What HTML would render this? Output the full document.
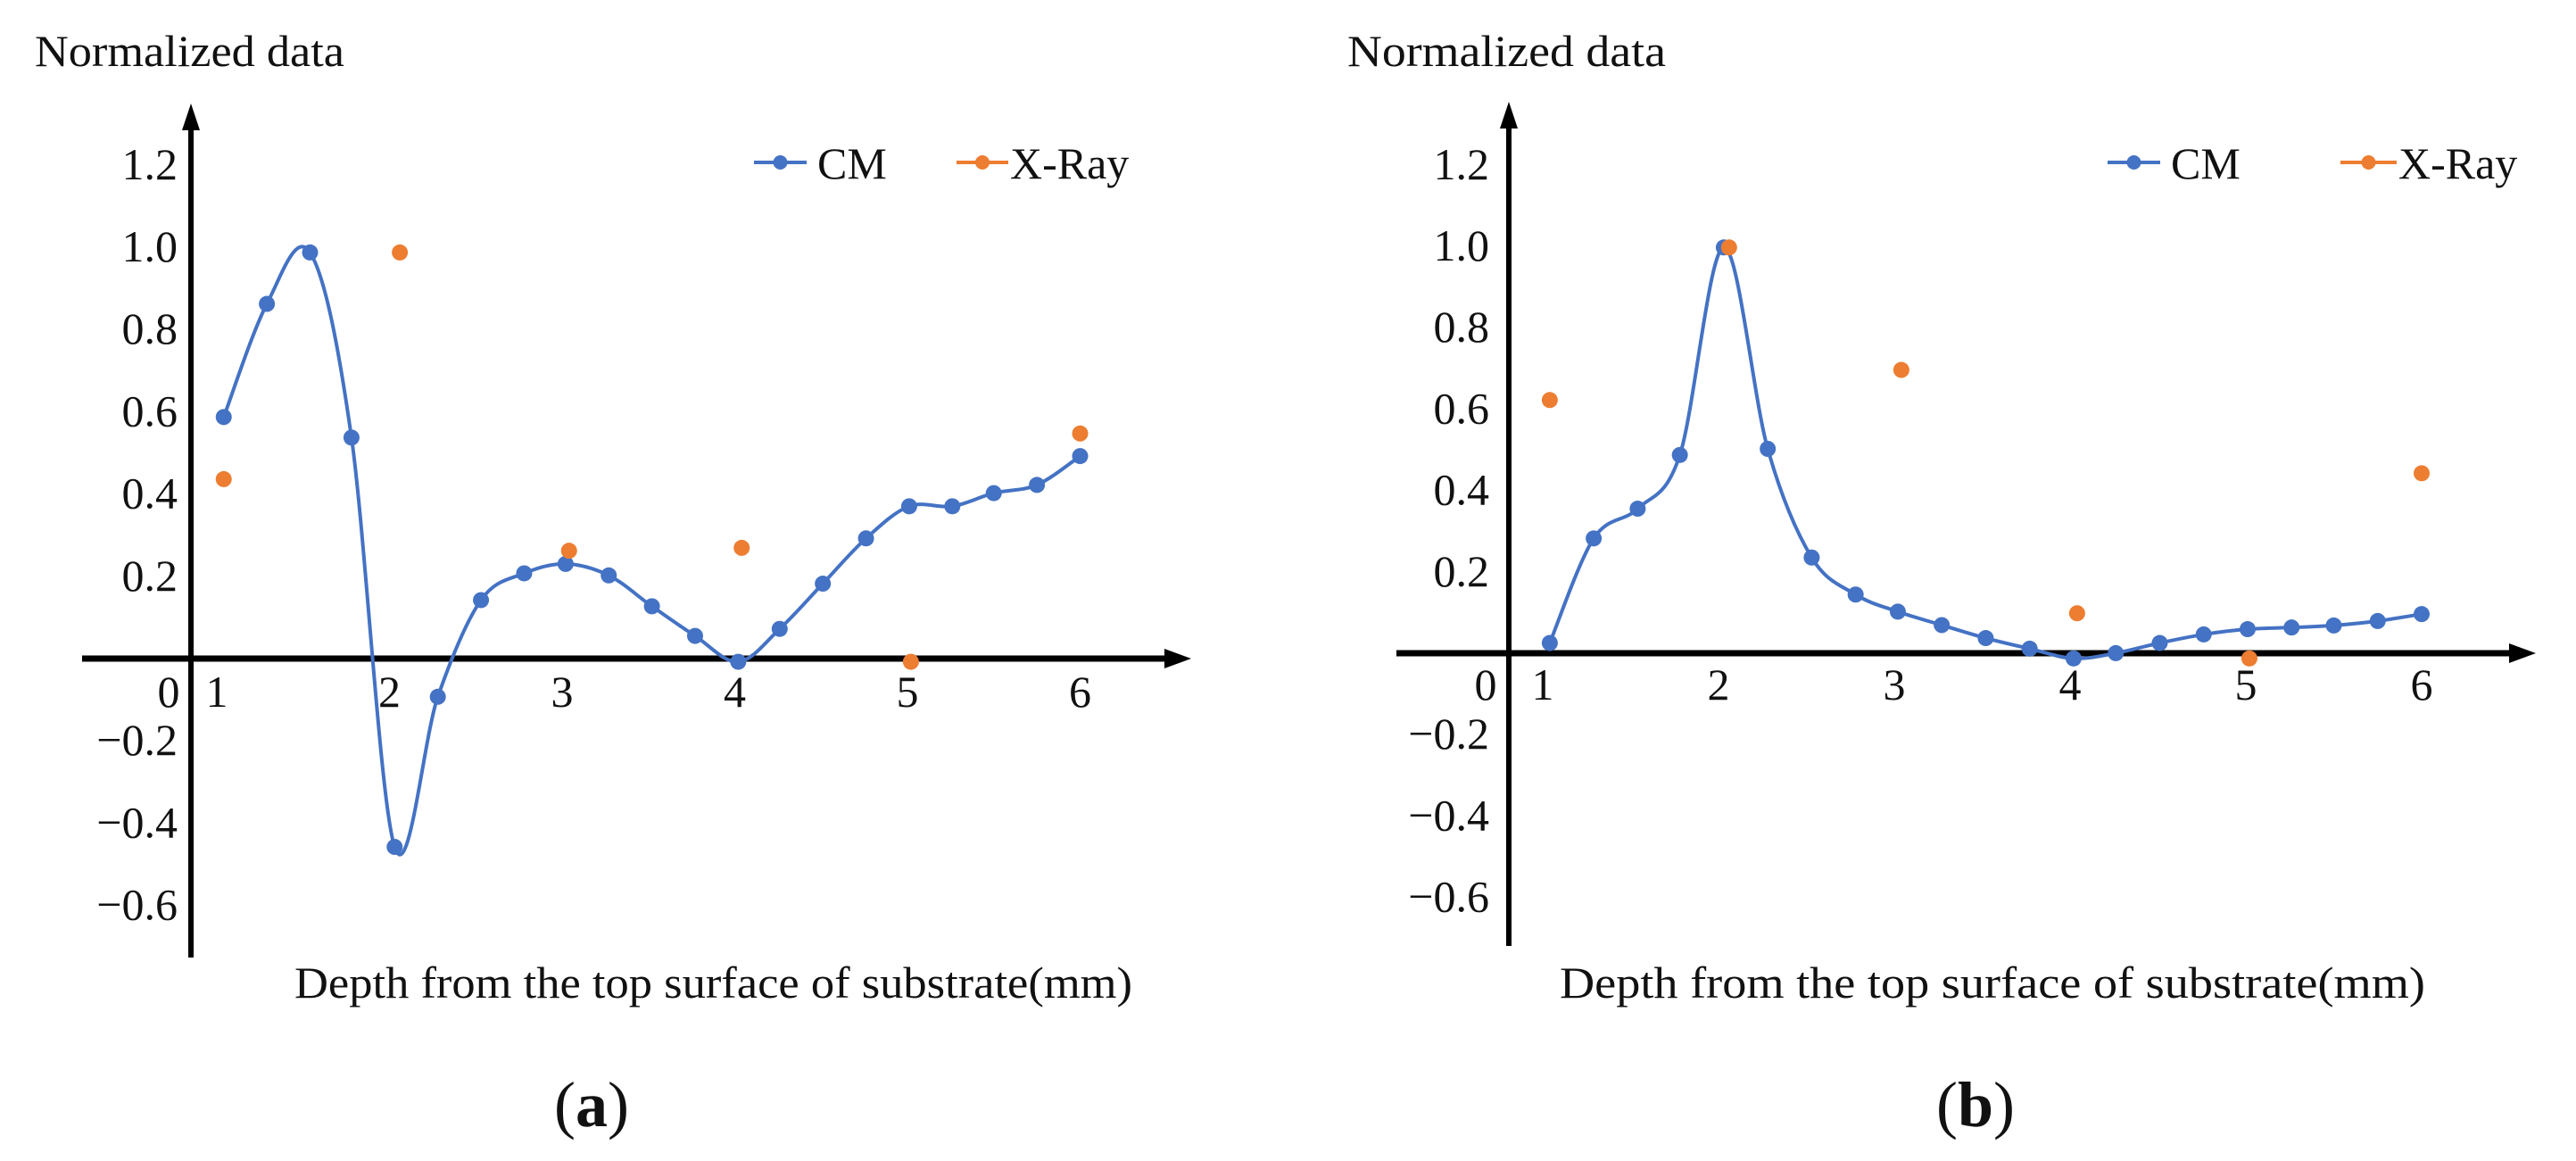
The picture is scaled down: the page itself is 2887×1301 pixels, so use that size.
<!DOCTYPE html>
<html><head><meta charset="utf-8"><style>
html,body{margin:0;padding:0;background:#fff;}
svg{display:block;}
text{font-family:"Liberation Serif",serif;fill:#111;}
</style></head><body>
<svg id="fig" width="2887" height="1301" viewBox="0 0 2887 1301" xmlns="http://www.w3.org/2000/svg"></svg>
<script>
// ---- data ----
const depthCM = [1.04,1.29,1.54,1.78,2.03,2.28,2.53,2.78,3.02,3.27,3.52,3.77,4.02,4.26,4.51,4.76,5.01,5.26,5.50,5.75,6.0];
const cmA = [0.585,0.86,0.985,0.535,-0.46,-0.095,0.14,0.205,0.228,0.20,0.125,0.053,-0.01,0.07,0.18,0.29,0.368,0.368,0.40,0.42,0.49];
const cmB = [0.023,0.28,0.353,0.485,0.995,0.50,0.233,0.142,0.10,0.067,0.035,0.009,-0.015,-0.002,0.023,0.044,0.057,0.061,0.066,0.077,0.094];
const depthXR = [1.04,2.06,3.04,4.04,5.02,6.0];
const xrA = [0.434,0.985,0.26,0.267,-0.01,0.545];
const xrB = [0.62,0.995,0.694,0.096,-0.015,0.44];
const yTicks = [1.2,1.0,0.8,0.6,0.4,0.2,-0.2,-0.4,-0.6];
const yTickLabels = ["1.2","1.0","0.8","0.6","0.4","0.2","\u22120.2","\u22120.4","\u22120.6"];
const xTicks = [1,2,3,4,5,6];
const xTickLabels = ["1","2","3","4","5","6"];

const NS = "http://www.w3.org/2000/svg";
const svg = document.getElementById('fig');
function mk(tag, attrs, parent){
  const e = document.createElementNS(NS, tag);
  for (const k in attrs) e.setAttribute(k, attrs[k]);
  (parent||svg).appendChild(e);
  return e;
}
const BLUE = "#4472C4", ORANGE = "#ED7D31";

const panels = [
  {id:'a', cm:cmA, xr:xrA, axX:214, x0:243, dx:193.5, y0:737, dy:461, yTop:116, yBot:1073, xL:92, xR:1335,
   lblR:199, zeroX:189, xLbly:792, legCM:[845,904,916], legXR:[1072,1130,1132], legY:182,
   ttl:[39,386], axt:[330,1269], cap:[663,'(a)']},
  {id:'b', cm:cmB, xr:xrB, axX:1691, x0:1729, dx:197, y0:731, dy:456, yTop:114, yBot:1060, xL:1565, xR:2842,
   lblR:1669, zeroX:1665, xLbly:784, legCM:[2362,2421,2433], legXR:[2623,2686,2688], legY:182,
   ttl:[1510,1867], axt:[1748,2718], cap:[2214,'(b)']}
];

panels.forEach(p => {
  const g = mk('g', {});
  
  
  const X = v => p.x0 + (v - 1) * p.dx;
  const Y = v => p.y0 - v * p.dy;

  // y-axis title
  const t = mk('text', {x:p.ttl[0], y:74, 'font-size':50, textLength:p.ttl[1]-p.ttl[0], lengthAdjust:'spacingAndGlyphs'}, g);
  t.textContent = 'Normalized data';
  
  

  // axes
  const ya = mk('line', {x1:p.axX, y1:p.yTop+20, x2:p.axX, y2:p.yBot, stroke:'#000', 'stroke-width':6}, g);
  
  
  const yar = mk('path', {d:`M${p.axX-10},${p.yTop+30} L${p.axX},${p.yTop} L${p.axX+10},${p.yTop+30} Z`, fill:'#000'}, g);
  
  
  const zy = p.y0 + 1;
  const xa = mk('line', {x1:p.xL, y1:zy, x2:p.xR-20, y2:zy, stroke:'#000', 'stroke-width':7}, g);
  
  
  const xar = mk('path', {d:`M${p.xR-30},${zy-11} L${p.xR},${zy} L${p.xR-30},${zy+11} Z`, fill:'#000'}, g);
  
  

  // y tick labels
  yTicks.forEach((v, i) => {
    const tl = mk('text', {x:p.lblR, y:Y(v) + 17, 'font-size':50, 'text-anchor':'end'}, g);
    tl.textContent = yTickLabels[i];
    
    
  });
  // origin label
  const z0 = mk('text', {x:p.zeroX, y:p.xLbly, 'font-size':50, 'text-anchor':'middle'}, g);
  z0.textContent = '0';
  
  
  // x tick labels
  xTicks.forEach((v, i) => {
    const tl = mk('text', {x:X(v), y:p.xLbly, 'font-size':50, 'text-anchor':'middle'}, g);
    tl.textContent = xTickLabels[i];
    
    
  });

  // smooth CM line
  const pts = depthCM.map((d, i) => [X(d), Y(p.cm[i])]);
  let d = `M${pts[0][0]},${pts[0][1]}`;
  for (let i = 0; i < pts.length - 1; i++) {
    const p0 = pts[Math.max(0, i-1)], p1 = pts[i], p2 = pts[i+1], p3 = pts[Math.min(pts.length-1, i+2)];
    const c1 = [p1[0] + (p2[0]-p0[0])/6, p1[1] + (p2[1]-p0[1])/6];
    const c2 = [p2[0] - (p3[0]-p1[0])/6, p2[1] - (p3[1]-p1[1])/6];
    d += ` C${c1[0]},${c1[1]} ${c2[0]},${c2[1]} ${p2[0]},${p2[1]}`;
  }
  const ln = mk('path', {d:d, fill:'none', stroke:BLUE, 'stroke-width':4}, g);
  
  
  pts.forEach(pt => {
    const c = mk('circle', {cx:pt[0], cy:pt[1], r:9, fill:BLUE}, g);
    
    
  });
  // X-ray points
  depthXR.forEach((dv, i) => {
    const c = mk('circle', {cx:X(dv), cy:Y(p.xr[i]), r:9, fill:ORANGE}, g);
    
    
  });

  // legend
  const lg = mk('g', {}, g);
  
  
  const l1 = mk('line', {x1:p.legCM[0], y1:p.legY, x2:p.legCM[1], y2:p.legY, stroke:BLUE, 'stroke-width':4}, lg);
  
  
  mk('circle', {cx:(p.legCM[0]+p.legCM[1])/2, cy:p.legY, r:8, fill:BLUE}, lg);
  const lt1 = mk('text', {x:p.legCM[2], y:p.legY+18, 'font-size':50}, lg);
  lt1.textContent = 'CM';
  
  
  const l2 = mk('line', {x1:p.legXR[0], y1:p.legY, x2:p.legXR[1], y2:p.legY, stroke:ORANGE, 'stroke-width':4}, lg);
  
  
  mk('circle', {cx:(p.legXR[0]+p.legXR[1])/2, cy:p.legY, r:8, fill:ORANGE}, lg);
  const lt2 = mk('text', {x:p.legXR[2], y:p.legY+18, 'font-size':50}, lg);
  lt2.textContent = 'X-Ray';
  
  

  // x-axis title
  const at = mk('text', {x:p.axt[0], y:1118, 'font-size':50, textLength:p.axt[1]-p.axt[0], lengthAdjust:'spacingAndGlyphs'}, g);
  at.textContent = 'Depth from the top surface of substrate(mm)';
  
  

  // caption
  const cp = mk('text', {x:p.cap[0], y:1262, 'font-size':72, 'text-anchor':'middle'}, g);
  cp.innerHTML = '(<tspan font-weight="bold">' + p.cap[1].slice(1,2) + '</tspan>)';
  
  
});
</script>
</body></html>
